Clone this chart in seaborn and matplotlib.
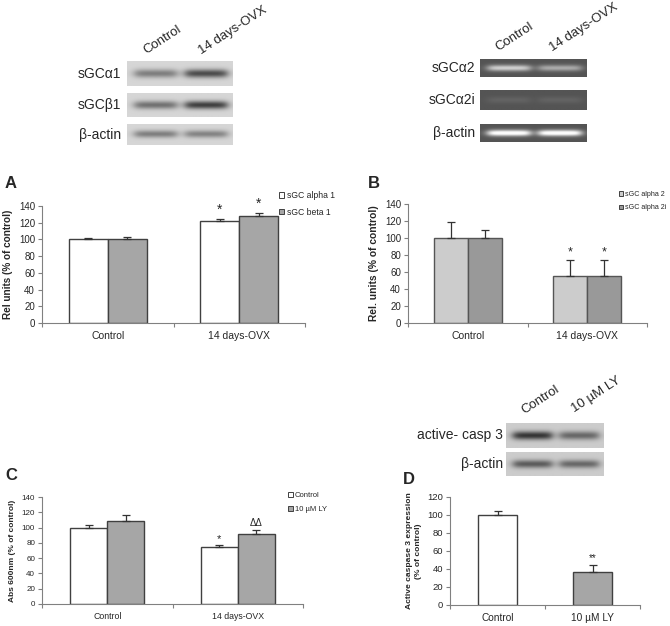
import numpy as np
import pandas as pd
import seaborn as sns
import matplotlib.pyplot as plt
from matplotlib.patches import Patch

# ---- data ----
ovx_groups = ["Control", "14 days-OVX"]
a_alpha1 = [100, 122]
a_alpha1_err = [2, 3]
a_beta1 = [100, 128]
a_beta1_err = [3, 4]
a_marks = [["", "*"], ["", "*"]]

b_alpha2 = [100, 55]
b_alpha2_err = [19, 19]
b_alpha2i = [100, 55]
b_alpha2i_err = [10, 19]
b_marks = [["", "*"], ["", "*"]]

c_control = [100, 75]
c_control_err = [3, 2]
c_ly = [108, 92]
c_ly_err = [8, 5]
c_marks = [["", "*"], ["", "ΔΔ"]]

d_groups = ["Control", "10 µM LY"]
d_vals = [100, 37]
d_err = [5, 8]
d_marks = ["", "**"]

# blot band strengths per lane (control, treated)
blot_a_rows = ["sGCα1", "sGCβ1", "β-actin"]
blot_a_bands = [[0.35, 0.55], [0.4, 0.6], [0.35, 0.33]]
blot_b_rows = ["sGCα2", "sGCα2i", "β-actin"]
blot_b_bands = [[0.5, 0.35], [0.06, 0.06], [0.75, 0.75]]
blot_d_rows = ["active- casp 3", "β-actin"]
blot_d_bands = [[0.6, 0.4], [0.45, 0.4]]

W, H = 670, 626
sns.set_theme(style="white")
plt.rcParams["font.family"] = ["Liberation Sans", "DejaVu Sans"]
fig = plt.figure(figsize=(W / 100, H / 100), dpi=100)


def box(x0, y0, x1, y1):
    return [x0 / W, 1 - y1 / H, (x1 - x0) / W, (y1 - y0) / H]


def fx(x):
    return x / W


def fy(y):
    return 1 - y / H


def style_axes(ax, ylim, step, tick_fs):
    ax.set_ylim(*ylim)
    ax.set_xlim(-0.5, 1.5)
    ax.set_yticks(np.arange(ylim[0], ylim[1] + 1, step))
    ax.set_xticks([-0.5, 0.5, 1.5], minor=True)
    ax.tick_params(axis="x", which="major", length=0, labelsize=tick_fs + 0.5, pad=6)
    ax.tick_params(axis="x", which="minor", length=3, color="#808080", width=0.8)
    ax.tick_params(axis="y", length=3, color="#808080", width=0.8, labelsize=tick_fs, pad=2)
    ax.tick_params(bottom=True, left=True, which="both", direction="out")
    for s in ["top", "right"]:
        ax.spines[s].set_visible(False)
    for s in ["left", "bottom"]:
        ax.spines[s].set_color("#808080")
        ax.spines[s].set_linewidth(0.8)
    ax.set_xlabel("")


def grouped_panel(rect, s1, e1, s2, e2, names, colors, marks, ylabel, ylfs, tick_fs,
                  width, leg_xy, leg_fs, edge, mark_fs):
    ax = fig.add_axes(box(*rect))
    df = pd.DataFrame({
        "group": ovx_groups * 2,
        "series": [names[0]] * 2 + [names[1]] * 2,
        "value": list(s1) + list(s2),
    })
    sns.barplot(data=df, x="group", y="value", hue="series", palette=colors,
                width=width, edgecolor=edge, linewidth=1, errorbar=None,
                legend=False, ax=ax)
    for cont, err, mk in zip(ax.containers, [e1, e2], marks):
        xs = [b.get_x() + b.get_width() / 2 for b in cont]
        ys = [b.get_height() for b in cont]
        ax.errorbar(xs, ys, yerr=[np.zeros(len(err)), err], fmt="none",
                    ecolor="#333333", elinewidth=0.9, capsize=3, capthick=0.9)
        for x, y, e, m in zip(xs, ys, err, mk):
            if m:
                ax.text(x, y + e + 2, m, ha="center", va="bottom",
                        fontsize=mark_fs if m != "ΔΔ" else 7)
    style_axes(ax, (0, 140), 20, tick_fs)
    ax.set_ylabel(ylabel, fontsize=ylfs, fontweight="bold", labelpad=4)
    handles = [Patch(facecolor=c, edgecolor="#404040", linewidth=0.7) for c in colors]
    ax.legend(handles, names, loc="upper left", bbox_to_anchor=(fx(leg_xy[0]), fy(leg_xy[1])),
              bbox_transform=fig.transFigure, frameon=False, fontsize=leg_fs,
              handlelength=0.6, handleheight=0.6, handletextpad=0.3,
              labelspacing=0.9, borderpad=0, borderaxespad=0)
    return ax


# Panel A
grouped_panel((42, 206, 305, 323), a_alpha1, a_alpha1_err, a_beta1, a_beta1_err,
              ["sGC alpha 1", "sGC beta 1"], ["#ffffff", "#a6a6a6"], a_marks,
              "Rel units (% of control)", 7.2, 7, 0.59, (279, 191), 6.2, "#404040", 10)
fig.text(fx(5), fy(183), "A", fontsize=12, fontweight="bold", va="center")

# Panel B
grouped_panel((408, 204, 647, 323), b_alpha2, b_alpha2_err, b_alpha2i, b_alpha2i_err,
              ["sGC alpha 2", "sGC alpha 2i"], ["#cccccc", "#999999"], b_marks,
              "Rel. units (% of control)", 7.4, 7, 0.57, (619, 191), 5.1, "#555555", 9)
fig.text(fx(368), fy(183), "B", fontsize=12, fontweight="bold", va="center")

# Panel C
grouped_panel((42, 497, 303, 604), c_control, c_control_err, c_ly, c_ly_err,
              ["Control", "10 µM LY"], ["#ffffff", "#a6a6a6"], c_marks,
              "Abs 600nm (% of control)", 6.0, 5.8, 0.57, (288, 492), 5.5, "#404040", 8)
fig.text(fx(5), fy(475), "C", fontsize=12, fontweight="bold", va="center")

# Panel D
axd = fig.add_axes(box(450, 497, 640, 605))
ddf = pd.DataFrame({"group": d_groups, "value": d_vals})
sns.barplot(data=ddf, x="group", y="value", hue="group", palette=["#ffffff", "#a6a6a6"],
            width=0.41, edgecolor="#404040", linewidth=1, errorbar=None, legend=False, ax=axd)
for b, e, m in zip(axd.patches, d_err, d_marks):
    x = b.get_x() + b.get_width() / 2
    y = b.get_height()
    axd.errorbar([x], [y], yerr=[[0], [e]], fmt="none", ecolor="#333333",
                 elinewidth=0.9, capsize=3, capthick=0.9)
    if m:
        axd.text(x, y + e + 2, m, ha="center", va="bottom", fontsize=7)
style_axes(axd, (0, 120), 20, 6.8)
axd.set_ylabel("Active caspase 3 expression\n(% of control)", fontsize=6.1,
               fontweight="bold", labelpad=4, linespacing=1.3)
fig.text(fx(403), fy(480), "D", fontsize=12, fontweight="bold", va="center")


# ---- blots ----
def blot(x0, x1, y0, y1, bands, dark=True, bg=0.82):
    ax = fig.add_axes(box(x0, y0, x1, y1))
    h, w = 24, 120
    yy = np.linspace(-1, 1, h)[:, None]
    xx = np.linspace(0, 1, w)[None, :]
    img = np.full((h, w), bg)
    for center, strength in zip([0.27, 0.75], bands):
        lane = 1 / (1 + np.exp(-(0.2 - np.abs(xx - center)) * 40))
        prof = np.exp(-(yy / 0.35) ** 2)
        if dark:
            img = img - strength * lane * prof
        else:
            img = img + strength * lane * prof
    ax.imshow(np.clip(img, 0, 1), cmap="gray", vmin=0, vmax=1, aspect="auto",
              interpolation="bicubic")
    ax.set_axis_off()


def row_label(x, y, s, fs=10):
    fig.text(fx(x), fy(y), s, ha="right", va="center", fontsize=fs)


def lane_label(x, y, s, fs=9.5):
    fig.text(fx(x), fy(y), s, ha="left", va="bottom", rotation=33,
             rotation_mode="anchor", fontsize=fs)


a_rows_y = [(61, 86), (93, 117), (124, 145)]
for (y0, y1), bands, name in zip(a_rows_y, blot_a_bands, blot_a_rows):
    blot(127, 232, y0, y1, bands, dark=True, bg=0.84)
    row_label(121, (y0 + y1) / 2, name)
lane_label(148, 57, "Control")
lane_label(203, 57, "14 days-OVX")

b_rows_y = [(59, 77), (90, 110), (124, 142)]
for (y0, y1), bands, name in zip(b_rows_y, blot_b_bands, blot_b_rows):
    blot(480, 587, y0, y1, bands, dark=False, bg=0.33)
    row_label(475, (y0 + y1) / 2, name)
lane_label(500, 54, "Control")
lane_label(554, 54, "14 days-OVX")

d_rows_y = [(423, 448), (452, 476)]
for (y0, y1), bands, name in zip(d_rows_y, blot_d_bands, blot_d_rows):
    blot(506, 604, y0, y1, bands, dark=True, bg=0.8)
    row_label(503, (y0 + y1) / 2, name)
lane_label(526, 417, "Control")
lane_label(576, 415, "10 µM LY")

fig.savefig("out.png", dpi=100)
